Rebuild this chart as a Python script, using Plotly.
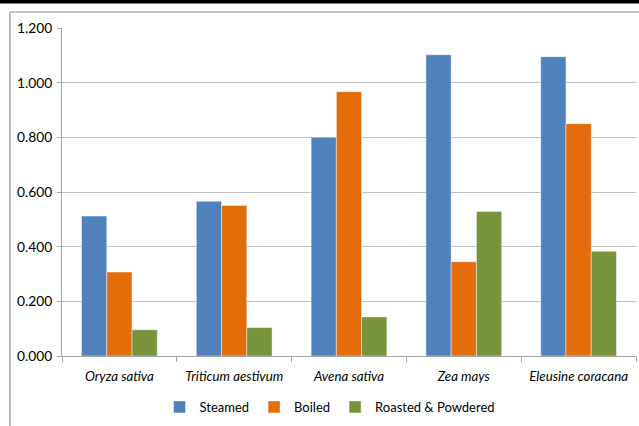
import plotly.graph_objects as go

categories = ["Oryza sativa", "Triticum aestivum", "Avena sativa", "Zea mays", "Eleusine coracana"]
steamed = [0.512, 0.566, 0.800, 1.102, 1.095]
boiled = [0.307, 0.551, 0.967, 0.345, 0.850]
roasted = [0.096, 0.104, 0.143, 0.529, 0.383]
series_names = ["Steamed", "Boiled", "Roasted & Powdered"]
y_ticks = [0.0, 0.2, 0.4, 0.6, 0.8, 1.0, 1.2]
y_tick_text = ["0.000", "0.200", "0.400", "0.600", "0.800", "1.000", "1.200"]

colors = ["#4F81BD", "#E46C0A", "#77933C"]
W, H = 639, 426
ML, MR, MT, MB = 62, 3, 28, 70
pw, ph = W - ML - MR, H - MT - MB

def px_x(x):
    return (x - ML) / pw

def px_y(y):
    return (H - MB - y) / ph

FONT = "Lato"
fig = go.Figure()
for name, vals, c in zip(series_names, [steamed, boiled, roasted], colors):
    fig.add_trace(go.Bar(
        x=categories, y=vals, name=name,
        marker=dict(color=c, line=dict(color="rgba(255,255,255,0.45)", width=1)),
    ))

shapes = [
    dict(type="rect", xref="paper", yref="paper", x0=px_x(0), x1=px_x(W), y0=px_y(0), y1=px_y(3.5),
         fillcolor="black", line=dict(width=0), layer="above"),
    dict(type="line", xref="paper", yref="paper", x0=px_x(10), x1=px_x(W), y0=px_y(12), y1=px_y(12),
         line=dict(color="#8C8C8C", width=1.2)),
    dict(type="line", xref="paper", yref="paper", x0=px_x(10), x1=px_x(10), y0=px_y(12), y1=px_y(H),
         line=dict(color="#8C8C8C", width=1.2)),
]

fig.update_layout(
    width=W, height=H,
    margin=dict(l=ML, r=MR, t=MT, b=MB, pad=0),
    paper_bgcolor="white", plot_bgcolor="white",
    barmode="group", bargap=0.34, bargroupgap=0,
    font=dict(family=FONT, size=12, color="#000000"),
    showlegend=True,
    legend=dict(orientation="h", x=px_x(330), xanchor="center", y=px_y(407), yanchor="middle",
                font=dict(family=FONT, size=13, color="#000000"), itemwidth=30,
                traceorder="normal", bgcolor="rgba(0,0,0,0)"),
    xaxis=dict(
        type="category", showline=True, linecolor="#A6A6A6", linewidth=1,
        ticks="outside", tickson="boundaries", ticklen=5, tickcolor="#A6A6A6",
        tickfont=dict(family=FONT, size=13.3, style="italic", color="#000000"),
        ticklabelstandoff=8,
        showgrid=False, zeroline=False, range=[-0.5, 4.5],
    ),
    yaxis=dict(
        range=[0, 1.2], tickvals=y_ticks, ticktext=y_tick_text,
        showline=True, linecolor="#A6A6A6", linewidth=1,
        ticks="outside", ticklen=4, tickcolor="#A6A6A6",
        showgrid=True, gridcolor="#C0C0C0", gridwidth=1, zeroline=False,
        tickfont=dict(family=FONT, size=13.8, color="#000000"),
        ticklabelstandoff=2,
    ),
    shapes=shapes,
)
fig.write_html("out.html")
